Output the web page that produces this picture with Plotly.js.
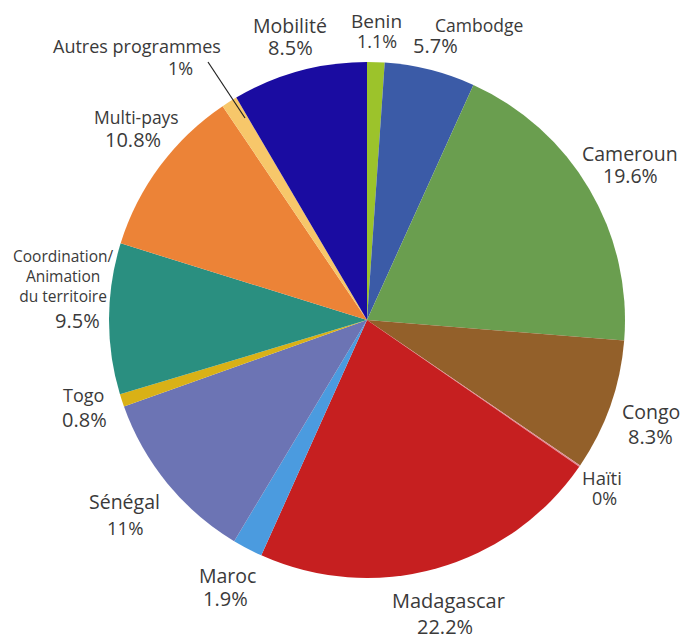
<!DOCTYPE html>
<html>
<head>
<meta charset="utf-8">
<script src="https://cdn.plot.ly/plotly-3.0.1.min.js"></script>
<style>html,body{margin:0;padding:0;background:#fff;}#chart{width:682px;height:636px;}</style>
</head>
<body>
<div id="chart"></div>
<script>
// Data
var categories = ["Benin","Cambodge","Cameroun","Congo","Haïti","Madagascar","Maroc","Sénégal","Togo","Coordination/<br>Animation<br>du territoire","Multi-pays","Autres programmes","Mobilité"];
var values = [1.1, 5.7, 19.6, 8.3, 0.1, 22.2, 1.9, 11, 0.8, 9.5, 10.8, 1, 8.5];
var pctLabels = ["1.1%","5.7%","19.6%","8.3%","0%","22.2%","1.9%","11%","0.8%","9.5%","10.8%","1%","8.5%"];
var colors = ["#9cc32b","#3b5ba7","#6a9e4f","#93602a","#e08a93","#c61f20","#4b9bdf","#6c74b4","#d9b116","#2a8f80","#ec8337","#f7c76a","#1a0ca1"];

// label layout (pixel positions of name and pct lines, font sizes)
var W = 682, H = 636;
var namePos = [[377,21],[479,25],[630,153],[651,411],[602,477],[448,600],[227,575],[124,501],[83,395],[63,276],[136,117],[137,46],[290,26]];
var pctPos  = [[377,41],[435,46],[630,176],[650,436],[604,498],[445,626],[225,598],[125,527],[84,419],[77,320],[133,140],[180,68],[290,48]];
var nameSize = [19,17.5,19.5,19.5,18.5,20,19.5,19.5,18,15.5,17.5,18,19.5];
var pctSize  = [18,20,19.5,20,18,20,20,18.5,20,20,20,18,20];

var annotations = [];
for (var i = 0; i < categories.length; i++) {
  annotations.push({
    xref:'paper', yref:'paper', x: namePos[i][0]/W, y: 1 - namePos[i][1]/H,
    text: categories[i], showarrow:false, xanchor:'center', yanchor:'middle',
    font:{family:'Open Sans, sans-serif', size:nameSize[i], color:'#3a3a3a'}
  });
  annotations.push({
    xref:'paper', yref:'paper', x: pctPos[i][0]/W, y: 1 - pctPos[i][1]/H,
    text: pctLabels[i], showarrow:false, xanchor:'center', yanchor:'middle',
    font:{family:'Open Sans, sans-serif', size:pctSize[i], color:'#3a3a3a'}
  });
}

var cx = 367, cy = 320, R = 258;
var data = [{
  type:'pie',
  values: values,
  labels: categories,
  sort:false,
  direction:'clockwise',
  rotation:0,
  textinfo:'none',
  hoverinfo:'label+percent',
  marker:{colors:colors, line:{width:0}},
  domain:{x:[(cx-R)/W,(cx+R)/W], y:[(H-cy-R)/H,(H-cy+R)/H]},
  showlegend:false
}];

var layout = {
  width:W, height:H,
  margin:{l:0,r:0,t:0,b:0},
  paper_bgcolor:'#fff',
  annotations: annotations,
  shapes:[{type:'line', xref:'paper', yref:'paper', x0:208/W, y0:1-62/H, x1:245/W, y1:1-118/H, line:{color:'#222', width:1.2}}]
};
Plotly.newPlot('chart', data, layout, {displayModeBar:false, staticPlot:true});
</script>
</body>
</html>
